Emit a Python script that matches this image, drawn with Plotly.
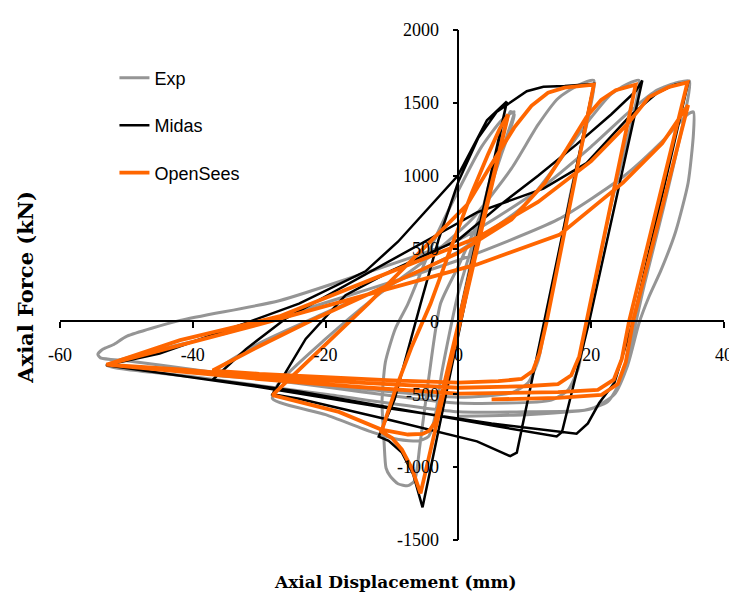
import plotly.graph_objects as go

# ---------------- data ----------------
x_ticks = [-60, -40, -20, 0, 20, 40]
y_ticks = [-1500, -1000, -500, 0, 500, 1000, 1500, 2000]

exp_disp = [0, 3, 5.5, 7, 7.8, 8.4,
            6.5, 3.5, 0, -2.7, -4.5, -5.8, -6.6, -7.6, -9.1, -10.3, -10.9, -11.2,
            -11.5, -11, -9.5, -7.6, -4, 0, 3.5, 6.5, 8.4,
            7.5, 4, 0, -2.5, -3.5, -4.5, -6, -9, -13, -20, -28,
            -27, -20, -13, -5, 2, 8, 12, 15, 18, 20.4,
            19.8, 17, 14.5, 13, 12, 10.5, 8, 0, -15, -30, -37,
            -30, -20, -10, 0, 10, 16, 20, 23, 25.5, 27.2,
            26.5, 23, 20.5, 19, 18, 16.5, 14, 0, -20, -40, -50, -53.9, -54.3, -53.5, -52, -49.9,
            -41.9, -27, -14.6, 0, 12, 20, 26, 30, 33, 34.8,
            34, 31, 28, 26, 24.5, 22.5, 19, 10, 0, -20, -40, -53,
            -35, -15, 0, 15, 25, 31, 34.5, 35.4,
            35.4, 34.6, 32.7, 30.5, 28.7, 27.2, 25.5, 23.5, 20, 10, 0]
exp_force = [0, 640, 1100, 1330, 1440, 1420,
             1150, 750, 380, 121, -400, -850, -1093, -1127, -1114, -1060, -1006, -823,
             -550, -280, -50, 121, 520, 900, 1200, 1380, 1440,
             1300, 800, 200, -350, -650, -790, -820, -810, -760, -640, -530,
             -420, -120, 150, 420, 700, 1050, 1350, 1530, 1620, 1654,
             1450, 900, 300, -50, -270, -420, -490, -520, -460, -390, -360,
             -150, 60, 260, 480, 800, 1150, 1400, 1560, 1630, 1654,
             1450, 800, 250, -100, -330, -470, -540, -560, -450, -330, -270, -250, -225, -190, -160, -101,
             7, 142, 324, 560, 900, 1200, 1450, 1590, 1640, 1650,
             1400, 800, 250, -150, -400, -550, -610, -620, -620, -500, -380, -300,
             -80, 200, 420, 700, 1000, 1250, 1420, 1438,
             1289, 952, 614, 350, 169, -13, -300, -500, -600, -640, -650]

midas_disp = [0, 7.3,
              -5.4, -6.8, -8.5, -10.5, -12,
              -9.6, -5.7, -3, 0, 3, 5.8, 8.8, 10.3, 12.8, 16, 20.4,
              13, 8.8, 7.8, 2.8, -10, -24, -28,
              -23, -17, -10, 0, 6.3, 12, 17.8, 23, 26.7, 27.7,
              19.7, 15.6, 14.8, 5.8, -10, -24, -37,
              -32, -26, -18, -10, -3, 2.8, 12.8, 19.3, 25.7, 30, 32.7, 34.6,
              26.3, 23.5, 21.2, 19.5, 17.8, 5, -10, -30, -53,
              -45, -35, -24, -14, -9.1, -0.1, 4.3, 7.3]
midas_force = [0, 1510,
               -1276, -1050, -900, -820, -790,
               -533, 121, 560, 960, 1260, 1440, 1530, 1580, 1610, 1615, 1630,
               0, -900, -925, -823, -680, -531, -500,
               -120, 180, 350, 560, 800, 1000, 1215, 1420, 1580, 1654,
               0, -760, -790, -720, -590, -480, -400,
               -190, 20, 220, 420, 600, 749, 911, 1087, 1404, 1570, 1627, 1640,
               0, -420, -560, -700, -770, -700, -600, -450, -300,
               -220, -60, 122, 344, 547, 999, 1380, 1510]

opensees_disp = [0, 7.5,
                 -5.7, -7, -8.5, -10, -11.6,
                 -9.5, -7, -4.2, -1, 2, 4.5, 6.2, 7.5,
                 -2.9, -3.5, -4.4, -5.4, -7.6, -11.6, -18, -28,
                 -13.6, 1.3, 5, 8.4, 11, 13.5, 16, 20.4,
                 13.3, 12.2, 11.2, 9.5, 6, 0, -10, -20, -30, -37,
                 -30, -22, -12, 0, 8, 13, 16.3, 19.3, 21.5, 23.7, 26.7,
                 19.3, 18.2, 17, 15, 10, 0, -15, -30, -42, -53,
                 -41.9, -27, -12.2, 2.8, 12, 20, 25.5, 28.7, 31.6, 34.5,
                 25.7, 24.6, 23.4, 21, 15, 0, -15, -30, -45, -53,
                 -30, -10, 2.8, 15.2, 24.8, 30.7, 34.6,
                 26.3, 25.2, 24, 21.5, 15, 5]
opensees_force = [0, 1420,
                  -1180, -1010, -880, -800, -756,
                  -470, -170, 121, 520, 880, 1150, 1320, 1420,
                  -600, -690, -750, -772, -776, -742, -621, -506,
                  121, 800, 1080, 1330, 1480, 1570, 1605, 1625,
                  0, -220, -340, -395, -410, -420, -405, -385, -360, -337,
                  -170, 10, 220, 470, 700, 950, 1181, 1404, 1520, 1587, 1625,
                  0, -240, -370, -430, -445, -455, -420, -375, -330, -297,
                  -128, 34, 304, 574, 820, 1100, 1357, 1539, 1607, 1640,
                  0, -260, -400, -470, -485, -495, -450, -395, -330, -297,
                  -20, 230, 391, 594, 952, 1222, 1485,
                  0, -280, -430, -505, -525, -535]

series_names = ["Exp", "Midas", "OpenSees"]
series_colors = ["#959595", "#000000", "#ff6600"]

# ---------------- figure ----------------
fig = go.Figure()
data = [(exp_disp, exp_force, 3.0, "spline"),
        (midas_disp, midas_force, 2.5, "linear"),
        (opensees_disp, opensees_force, 3.8, "linear")]
for name, color, (xs, ys, w, shp) in zip(series_names, series_colors, data):
    fig.add_trace(go.Scatter(
        x=xs, y=ys, mode="lines", name=name, legendgroup=name,
        line=dict(color=color, width=w, shape=shp,
                  smoothing=0.6 if shp == "spline" else None),
        hoverinfo="skip"))

tick_font = dict(family="Liberation Serif", size=18, color="black")
fig.update_layout(
    width=737, height=600,
    margin=dict(l=52, r=17, t=13, b=68),
    paper_bgcolor="white", plot_bgcolor="white",
    showlegend=True,
    legend=dict(x=0.082, y=0.942, xanchor="left", yanchor="top",
                font=dict(family="Liberation Sans", size=18, color="black"),
                bgcolor="rgba(0,0,0,0)", tracegroupgap=21,
                traceorder="grouped"),
    xaxis=dict(range=[-60, 40], tickvals=x_ticks, ticktext=[str(v) for v in x_ticks],
               showgrid=False, zeroline=False, showline=True, linecolor="black",
               linewidth=1.5, ticks="outside", ticklen=6, tickcolor="black",
               tickwidth=1.5, tickfont=tick_font, anchor="free",
               position=1500 / 3500, ticklabelstandoff=11),
    yaxis=dict(range=[-1500, 2000], tickvals=y_ticks, ticktext=[str(v) for v in y_ticks],
               showgrid=False, zeroline=False, showline=True, linecolor="black",
               linewidth=1.5, ticks="outside", ticklen=5, tickcolor="black",
               tickwidth=1.5, tickfont=tick_font, anchor="free",
               position=0.6, ticklabelstandoff=10),
    annotations=[
        dict(text="<b>Axial Displacement (mm)</b>", xref="paper", yref="paper",
             x=(397 - 60) / 668, y=-(583 - 540) / 519, showarrow=False,
             xanchor="center", yanchor="middle",
             font=dict(family="DejaVu Serif", size=17, color="black")),
        dict(text="<b>Axial Force (kN)</b>", xref="paper", yref="paper",
             x=(25 - 60) / 668, y=(540 - 283) / 519, showarrow=False, textangle=-90,
             xanchor="center", yanchor="middle",
             font=dict(family="DejaVu Serif", size=21, color="black")),
    ],
)

fig.write_html("out.html")
